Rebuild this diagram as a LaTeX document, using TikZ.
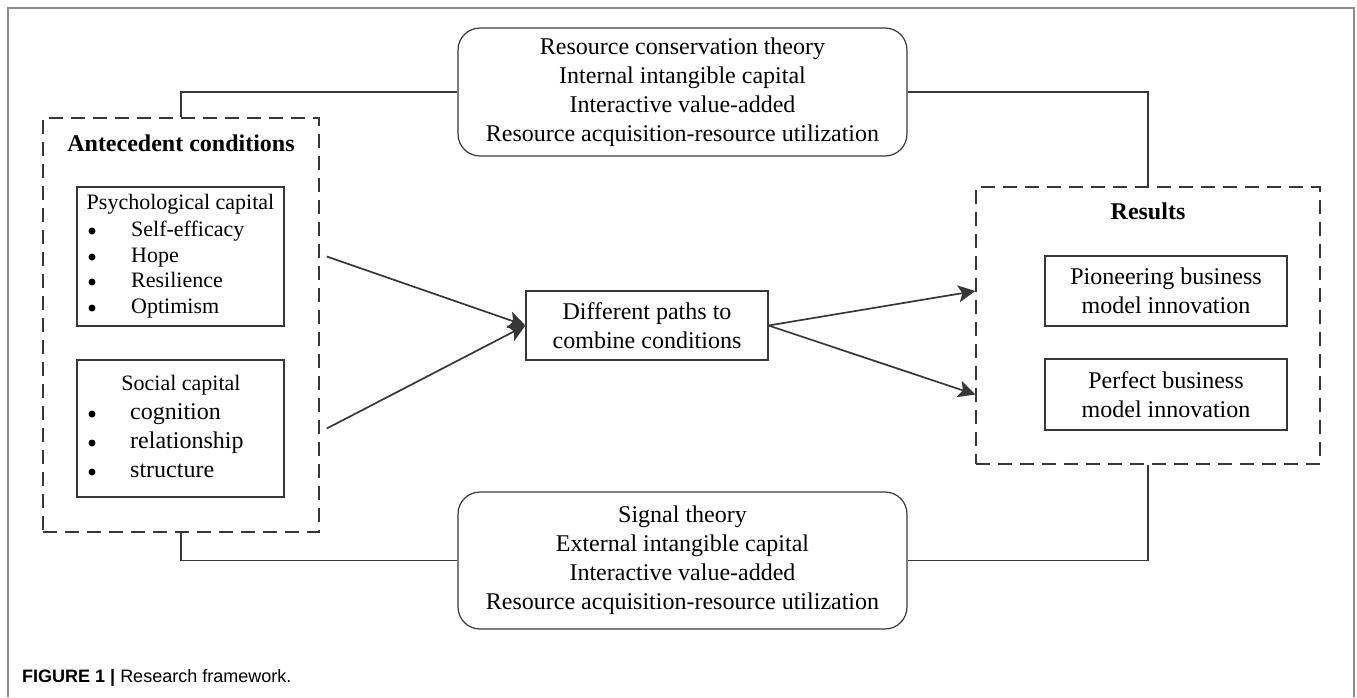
\documentclass[tikz,border=0pt]{standalone}
\usepackage{fontspec}
\setmainfont{Liberation Serif}
\newfontfamily\capfont{Liberation Sans}
\usetikzlibrary{positioning,calc,arrows.meta}
\definecolor{linegray}{RGB}{55,55,55}
\definecolor{framegray}{RGB}{140,140,140}

\begin{document}
\begin{tikzpicture}[x=1pt, y=-1pt,
    txt/.style={font=\fontsize{24}{29}\selectfont, align=center, inner sep=0pt},
    smalltxt/.style={txt, font=\fontsize{22}{27}\selectfont},
    boldtxt/.style={txt, font=\fontsize{24}{29}\selectfont\bfseries},
    theorybox/.style={txt, draw=linegray, line width=1.2pt, rounded corners=22pt, minimum width=449pt},
    solidbox/.style={txt, draw=linegray, line width=1.1pt},
    dashbox/.style={draw=linegray, line width=1.5pt, dash pattern=on 14pt off 8pt},
    link/.style={draw=linegray, line width=1.7pt},
    arrow/.style={link, -{Stealth[length=17pt, width=17pt, inset=4pt]}},
    item/.style={txt, anchor=west, text height=17pt, text depth=5pt},
    dot/.style={circle, fill=black, inner sep=0pt, minimum size=7pt},
]
    % Frame and caption
    \useasboundingbox (0,0) rectangle (1357,697);
    \draw [framegray, line width=1.3pt] (8,697) -- (8,8) -- (1354,8) -- (1354,697);
    \node [anchor=west, inner sep=0pt, font=\capfont\fontsize{18}{22}\selectfont] (caption) at (22,678)
        {\textbf{FIGURE 1 |} Research framework.};

    % Theory boxes
    \node [theorybox, minimum height=128pt] (cons) at (682.5,92)
        {Resource conservation theory\\Internal intangible capital\\Interactive value-added\\Resource acquisition-resource utilization};
    \node [theorybox, minimum height=137pt] (signal) at (682.5,560.5)
        {Signal theory\\External intangible capital\\Interactive value-added\\Resource acquisition-resource utilization};

    % Antecedent conditions
    \node [dashbox, minimum width=276pt, minimum height=414pt] (antec) at (181,325) {};
    \node [boldtxt] (antec-title) at (181,143) {Antecedent conditions};

    \node [solidbox, minimum width=207pt, minimum height=139pt] (psych) at (180.5,256.5) {};
    \node [smalltxt] (psych-title) at (180.5,204) {Psychological capital};
    \foreach \name/\yy [count=\i] in {Self-efficacy/230, Hope/256, Resilience/281, Optimism/307} {
        \node [dot] (psych-b\i) at (92,\yy+1) {};
        \node [item, smalltxt] (psych-\i) at (131,\yy) {\name};
    }

    \node [solidbox, minimum width=207pt, minimum height=137pt] (social) at (180.5,428.5) {};
    \node [smalltxt] (social-title) at (181,385) {Social capital};
    \foreach \name/\yy [count=\i] in {cognition/413, relationship/442, structure/471} {
        \node [dot] (social-b\i) at (92,\yy+1) {};
        \node [item] (social-\i) at (130,\yy) {\name};
    }

    % Combination
    \node [solidbox, minimum width=242pt, minimum height=69pt] (paths) at (647,325.5)
        {Different paths to\\combine conditions};

    % Results
    \node [dashbox, minimum width=344pt, minimum height=277pt] (results) at (1148,325.5) {};
    \node [boldtxt] (results-title) at (1148,211) {Results};
    \node [solidbox, minimum width=242pt, minimum height=70pt] (pioneer) at (1166,291)
        {Pioneering business\\model innovation};
    \node [solidbox, minimum width=242pt, minimum height=71pt] (perfect) at (1166,394.5)
        {Perfect business\\model innovation};

    % Connectors
    \draw [link] (antec.north) |- (cons.west);
    \draw [link] (cons.east) -| (results.north);
    \draw [link] (antec.south) |- (signal.west);
    \draw [link] (signal.east) -| (results.south);
    \draw [arrow] ($(antec.east |- psych.center)+(7,0)$) -- (paths.west);
    \draw [arrow] ($(antec.east |- social.center)+(7,0)$) -- (paths.west);
    \draw [arrow] (paths.east) -- (results.west |- pioneer.center);
    \draw [arrow] (paths.east) -- (results.west |- perfect.center);

\end{tikzpicture}
\end{document}
